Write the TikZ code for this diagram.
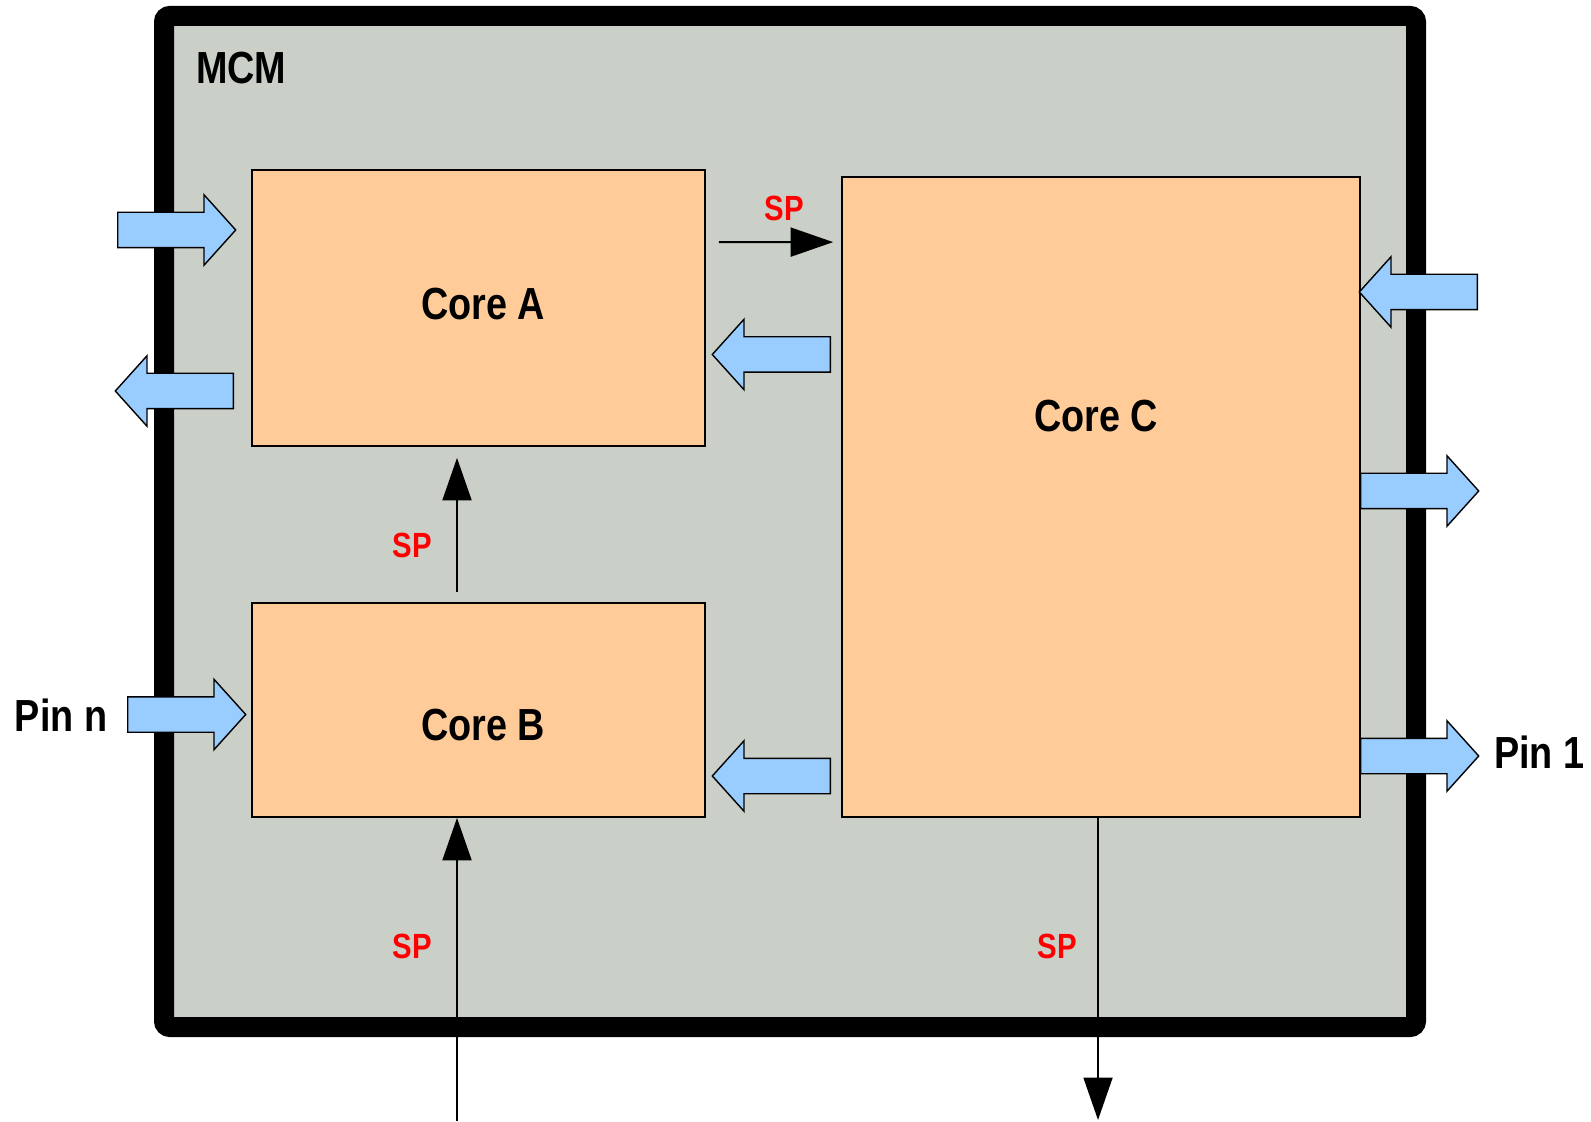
\documentclass[tikz,border=0pt]{standalone}
\usepackage{fontspec}
\setmainfont{Liberation Sans}[FakeStretch=0.84]
\usepackage{tikz}
\usetikzlibrary{positioning,arrows.meta,shapes.arrows,calc}
\definecolor{mcmgray}{RGB}{202,207,199}
\definecolor{corefill}{RGB}{255,204,153}
\definecolor{pinblue}{RGB}{153,204,255}
\tikzset{
  mcmframe/.style={draw, line width=0.4cm, rounded corners=0.12cm, fill=mcmgray},
  corebox/.style={draw, line width=1pt, fill=corefill, inner sep=0pt},
  corelabel/.style={font=\bfseries\fontsize{25.6}{30}\selectfont},
  pinarrow/.style={single arrow, draw, line width=0.8pt, fill=pinblue, minimum height=2.36cm,
    inner xsep=0pt, inner ysep=0.34cm, text height=0pt, text depth=0pt,
    single arrow head extend=0.35cm, single arrow tip angle=96},
  sparrow/.style={-{Triangle[length=0.85cm, width=0.58cm]}, line width=1.1pt},
  splabel/.style={font=\bfseries\fontsize{19.9}{24}\selectfont, text=red}
}
\begin{document}
\begin{tikzpicture}
  \useasboundingbox (0,0) rectangle (31.82,22.42);
  \draw[mcmframe] (3.28,1.88) rectangle (28.32,22.10);
  \node[corelabel, anchor=west] (mcm) at (3.80,21.06) {MCM};

  % the three cores
  \node[corebox, minimum width=9.06cm, minimum height=5.52cm] (coreA) at (9.57,16.26) {};
  \node[corebox, minimum width=9.06cm, minimum height=4.28cm] (coreB) at (9.57,8.22) {};
  \node[corebox, minimum width=10.36cm, minimum height=12.80cm] (coreC) at (22.02,12.48) {};
  \node[corelabel] (labA) at (9.66,16.34) {Core A};
  \node[corelabel] (labB) at (9.66,7.92) {Core B};
  \node[corelabel] (labC) at (21.92,14.10) {Core C};

  % pins
  \node[pinarrow, anchor=tail] (inA) at (2.34,17.82) {};
  \node[pinarrow, shape border rotate=180, anchor=tail] (outA) at (4.68,14.60) {};
  \node[pinarrow, anchor=tail] (pinN) at (2.54,8.13) {};
  \node[corelabel, anchor=east] (pinNlab) at (2.27,8.12) {Pin n};
  \node[pinarrow, shape border rotate=180, anchor=tail] (cToA) at (16.62,15.33) {};
  \node[pinarrow, shape border rotate=180, anchor=tail] (cToB) at (16.62,6.90) {};
  \node[pinarrow, shape border rotate=180, anchor=tail] (inC) at (29.56,16.58) {};
  \node[pinarrow, anchor=tail] (outC) at (27.20,12.60) {};
  \node[pinarrow, anchor=tail] (pinOne) at (27.20,7.30) {};
  \node[corelabel, anchor=west] (pinOnelab) at (29.76,7.38) {Pin 1};

  % SP links
  \coordinate (spIn) at (9.14,0);
  \coordinate (spOut) at (21.96,0.02);
  \draw[sparrow] ($(coreA.north east)+(0.26,-1.46)$) -- ($(coreC.north west)+(-0.16,-1.32)$);
  \node[splabel] (spAC) at (15.68,18.26) {SP};
  \draw[sparrow] ($(coreB.north)+(-0.43,0.20)$) -- ($(coreA.south)+(-0.43,-0.22)$);
  \node[splabel] (spBA) at (8.24,11.52) {SP};
  \draw[sparrow] (spIn) -- (spIn |- coreB.south);
  \node[splabel] (spInlab) at (8.24,3.50) {SP};
  \draw[sparrow] (spOut |- coreC.south) -- (spOut);
  \node[splabel] (spOutlab) at (21.14,3.50) {SP};
\end{tikzpicture}
\end{document}
